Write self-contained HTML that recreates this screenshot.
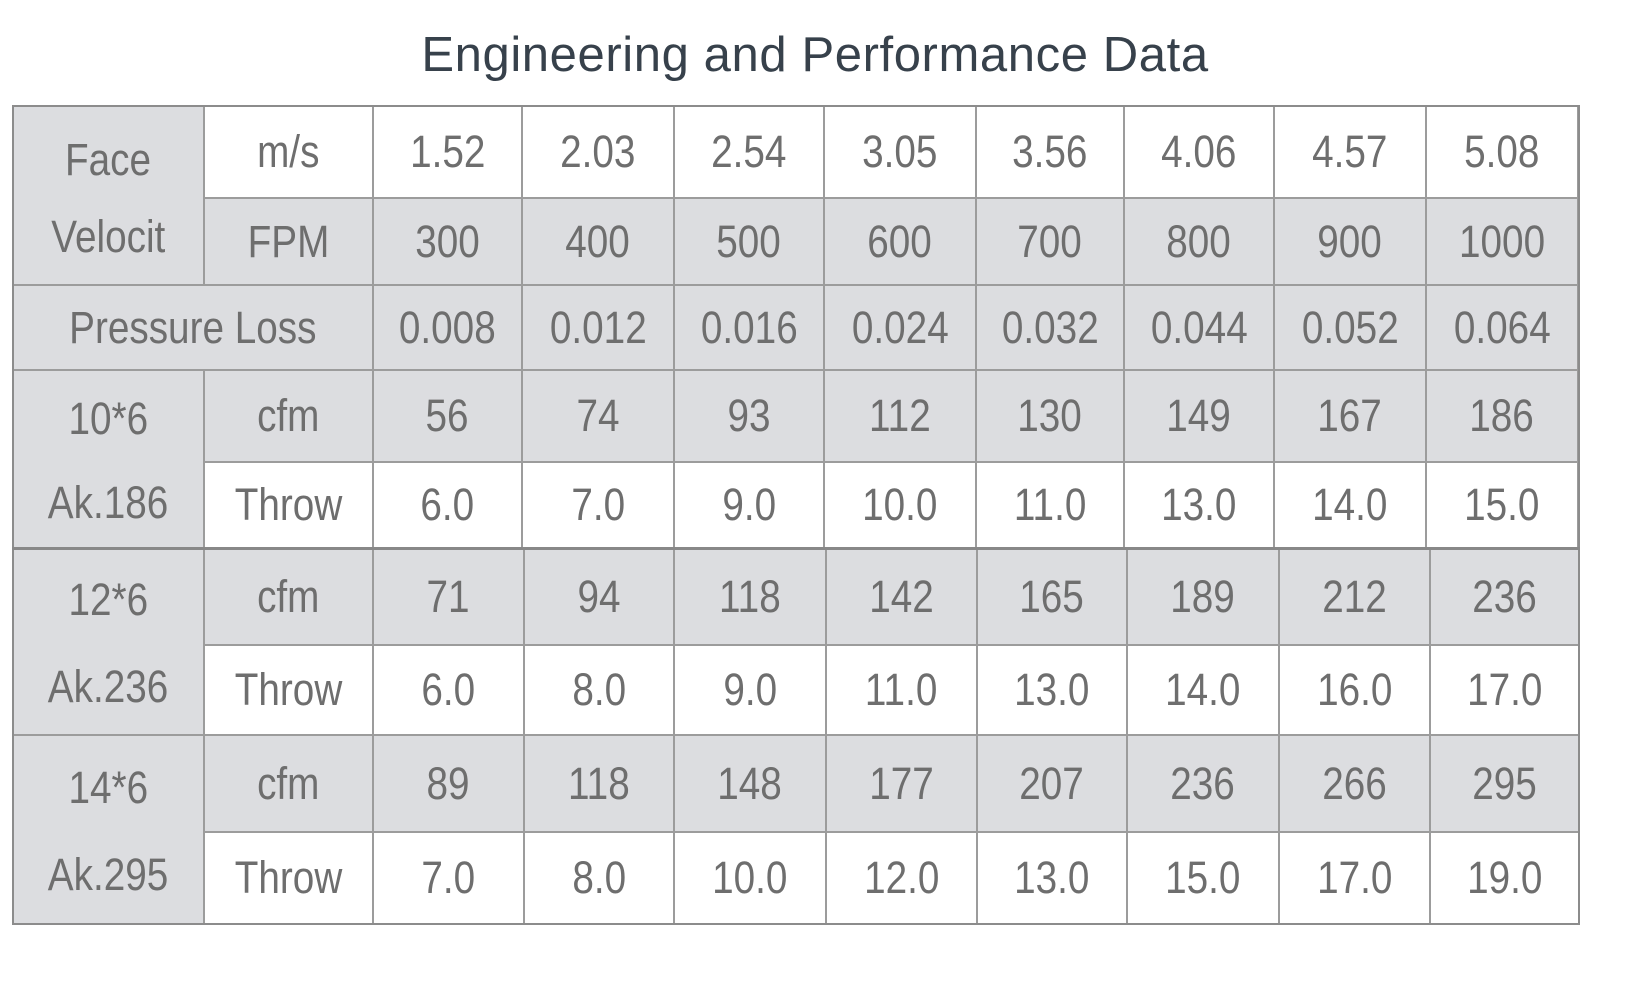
<!DOCTYPE html>
<html><head><meta charset="utf-8"><style>
body{margin:0;width:1630px;height:1000px;background:#fff;position:relative;overflow:hidden;font-family:"Liberation Sans",sans-serif;}
.t{position:absolute;left:0;width:1630px;top:27px;text-align:center;font-size:49px;color:#37414b;letter-spacing:0.6px;}
.c{position:absolute;box-sizing:border-box;border:1px solid #9c9c9c;display:flex;align-items:center;justify-content:center;font-size:45px;color:#6e6e6e;}
.c span{display:inline-block;transform:scaleX(.86);white-space:nowrap;}
.g{background:#dcdde0;}
.w{background:#fff;}
.frame{position:absolute;box-sizing:border-box;border:2px solid #8c8c8c;left:12px;top:105px;width:1568px;height:820px;}
.hl{position:absolute;left:12px;width:1568px;height:3px;background:#888;}
</style></head><body>
<div class="t">Engineering and Performance Data</div>

<div class="c g" style="left:13px;top:106px;width:191px;height:179px;flex-direction:column;justify-content:space-around;padding:14px 0 8px"><span>Face</span><span>Velocit</span></div>
<div class="c w" style="left:204px;top:106px;width:169px;height:92px"><span>m/s</span></div>
<div class="c w" style="left:373px;top:106px;width:149px;height:92px"><span>1.52</span></div>
<div class="c w" style="left:522px;top:106px;width:152px;height:92px"><span>2.03</span></div>
<div class="c w" style="left:674px;top:106px;width:150px;height:92px"><span>2.54</span></div>
<div class="c w" style="left:824px;top:106px;width:152px;height:92px"><span>3.05</span></div>
<div class="c w" style="left:976px;top:106px;width:148px;height:92px"><span>3.56</span></div>
<div class="c w" style="left:1124px;top:106px;width:150px;height:92px"><span>4.06</span></div>
<div class="c w" style="left:1274px;top:106px;width:152px;height:92px"><span>4.57</span></div>
<div class="c w" style="left:1426px;top:106px;width:152px;height:92px"><span>5.08</span></div>

<div class="c g" style="left:204px;top:198px;width:169px;height:87px"><span>FPM</span></div>
<div class="c g" style="left:373px;top:198px;width:149px;height:87px"><span>300</span></div>
<div class="c g" style="left:522px;top:198px;width:152px;height:87px"><span>400</span></div>
<div class="c g" style="left:674px;top:198px;width:150px;height:87px"><span>500</span></div>
<div class="c g" style="left:824px;top:198px;width:152px;height:87px"><span>600</span></div>
<div class="c g" style="left:976px;top:198px;width:148px;height:87px"><span>700</span></div>
<div class="c g" style="left:1124px;top:198px;width:150px;height:87px"><span>800</span></div>
<div class="c g" style="left:1274px;top:198px;width:152px;height:87px"><span>900</span></div>
<div class="c g" style="left:1426px;top:198px;width:152px;height:87px"><span>1000</span></div>

<div class="c g" style="left:13px;top:285px;width:360px;height:85px"><span>Pressure Loss</span></div>
<div class="c g" style="left:373px;top:285px;width:149px;height:85px"><span>0.008</span></div>
<div class="c g" style="left:522px;top:285px;width:152px;height:85px"><span>0.012</span></div>
<div class="c g" style="left:674px;top:285px;width:150px;height:85px"><span>0.016</span></div>
<div class="c g" style="left:824px;top:285px;width:152px;height:85px"><span>0.024</span></div>
<div class="c g" style="left:976px;top:285px;width:148px;height:85px"><span>0.032</span></div>
<div class="c g" style="left:1124px;top:285px;width:150px;height:85px"><span>0.044</span></div>
<div class="c g" style="left:1274px;top:285px;width:152px;height:85px"><span>0.052</span></div>
<div class="c g" style="left:1426px;top:285px;width:152px;height:85px"><span>0.064</span></div>

<div class="c g" style="left:13px;top:370px;width:191px;height:178px;flex-direction:column;justify-content:space-around;padding:6px 0 2px"><span>10*6</span><span>Ak.186</span></div>
<div class="c g" style="left:204px;top:370px;width:169px;height:92px"><span>cfm</span></div>
<div class="c g" style="left:373px;top:370px;width:149px;height:92px"><span>56</span></div>
<div class="c g" style="left:522px;top:370px;width:152px;height:92px"><span>74</span></div>
<div class="c g" style="left:674px;top:370px;width:150px;height:92px"><span>93</span></div>
<div class="c g" style="left:824px;top:370px;width:152px;height:92px"><span>112</span></div>
<div class="c g" style="left:976px;top:370px;width:148px;height:92px"><span>130</span></div>
<div class="c g" style="left:1124px;top:370px;width:150px;height:92px"><span>149</span></div>
<div class="c g" style="left:1274px;top:370px;width:152px;height:92px"><span>167</span></div>
<div class="c g" style="left:1426px;top:370px;width:152px;height:92px"><span>186</span></div>
<div class="c w" style="left:204px;top:462px;width:169px;height:86px"><span>Throw</span></div>
<div class="c w" style="left:373px;top:462px;width:149px;height:86px"><span>6.0</span></div>
<div class="c w" style="left:522px;top:462px;width:152px;height:86px"><span>7.0</span></div>
<div class="c w" style="left:674px;top:462px;width:150px;height:86px"><span>9.0</span></div>
<div class="c w" style="left:824px;top:462px;width:152px;height:86px"><span>10.0</span></div>
<div class="c w" style="left:976px;top:462px;width:148px;height:86px"><span>11.0</span></div>
<div class="c w" style="left:1124px;top:462px;width:150px;height:86px"><span>13.0</span></div>
<div class="c w" style="left:1274px;top:462px;width:152px;height:86px"><span>14.0</span></div>
<div class="c w" style="left:1426px;top:462px;width:152px;height:86px"><span>15.0</span></div>

<div class="c g" style="left:13px;top:548px;width:191px;height:187px;flex-direction:column;justify-content:space-around;padding:8px 0 4px"><span>12*6</span><span>Ak.236</span></div>
<div class="c g" style="left:204px;top:548px;width:169px;height:97px"><span>cfm</span></div>
<div class="c g" style="left:373px;top:548px;width:151px;height:97px"><span>71</span></div>
<div class="c g" style="left:524px;top:548px;width:150px;height:97px"><span>94</span></div>
<div class="c g" style="left:674px;top:548px;width:152px;height:97px"><span>118</span></div>
<div class="c g" style="left:826px;top:548px;width:151px;height:97px"><span>142</span></div>
<div class="c g" style="left:977px;top:548px;width:150px;height:97px"><span>165</span></div>
<div class="c g" style="left:1127px;top:548px;width:152px;height:97px"><span>189</span></div>
<div class="c g" style="left:1279px;top:548px;width:151px;height:97px"><span>212</span></div>
<div class="c g" style="left:1430px;top:548px;width:150px;height:97px"><span>236</span></div>
<div class="c w" style="left:204px;top:645px;width:169px;height:90px"><span>Throw</span></div>
<div class="c w" style="left:373px;top:645px;width:151px;height:90px"><span>6.0</span></div>
<div class="c w" style="left:524px;top:645px;width:150px;height:90px"><span>8.0</span></div>
<div class="c w" style="left:674px;top:645px;width:152px;height:90px"><span>9.0</span></div>
<div class="c w" style="left:826px;top:645px;width:151px;height:90px"><span>11.0</span></div>
<div class="c w" style="left:977px;top:645px;width:150px;height:90px"><span>13.0</span></div>
<div class="c w" style="left:1127px;top:645px;width:152px;height:90px"><span>14.0</span></div>
<div class="c w" style="left:1279px;top:645px;width:151px;height:90px"><span>16.0</span></div>
<div class="c w" style="left:1430px;top:645px;width:150px;height:90px"><span>17.0</span></div>

<div class="c g" style="left:13px;top:735px;width:191px;height:189px;flex-direction:column;justify-content:space-around;padding:8px 0 4px"><span>14*6</span><span>Ak.295</span></div>
<div class="c g" style="left:204px;top:735px;width:169px;height:97px"><span>cfm</span></div>
<div class="c g" style="left:373px;top:735px;width:151px;height:97px"><span>89</span></div>
<div class="c g" style="left:524px;top:735px;width:150px;height:97px"><span>118</span></div>
<div class="c g" style="left:674px;top:735px;width:152px;height:97px"><span>148</span></div>
<div class="c g" style="left:826px;top:735px;width:151px;height:97px"><span>177</span></div>
<div class="c g" style="left:977px;top:735px;width:150px;height:97px"><span>207</span></div>
<div class="c g" style="left:1127px;top:735px;width:152px;height:97px"><span>236</span></div>
<div class="c g" style="left:1279px;top:735px;width:151px;height:97px"><span>266</span></div>
<div class="c g" style="left:1430px;top:735px;width:150px;height:97px"><span>295</span></div>
<div class="c w" style="left:204px;top:832px;width:169px;height:92px"><span>Throw</span></div>
<div class="c w" style="left:373px;top:832px;width:151px;height:92px"><span>7.0</span></div>
<div class="c w" style="left:524px;top:832px;width:150px;height:92px"><span>8.0</span></div>
<div class="c w" style="left:674px;top:832px;width:152px;height:92px"><span>10.0</span></div>
<div class="c w" style="left:826px;top:832px;width:151px;height:92px"><span>12.0</span></div>
<div class="c w" style="left:977px;top:832px;width:150px;height:92px"><span>13.0</span></div>
<div class="c w" style="left:1127px;top:832px;width:152px;height:92px"><span>15.0</span></div>
<div class="c w" style="left:1279px;top:832px;width:151px;height:92px"><span>17.0</span></div>
<div class="c w" style="left:1430px;top:832px;width:150px;height:92px"><span>19.0</span></div>

<div class="frame"></div>
<div class="hl" style="top:547px"></div>
</body></html>
